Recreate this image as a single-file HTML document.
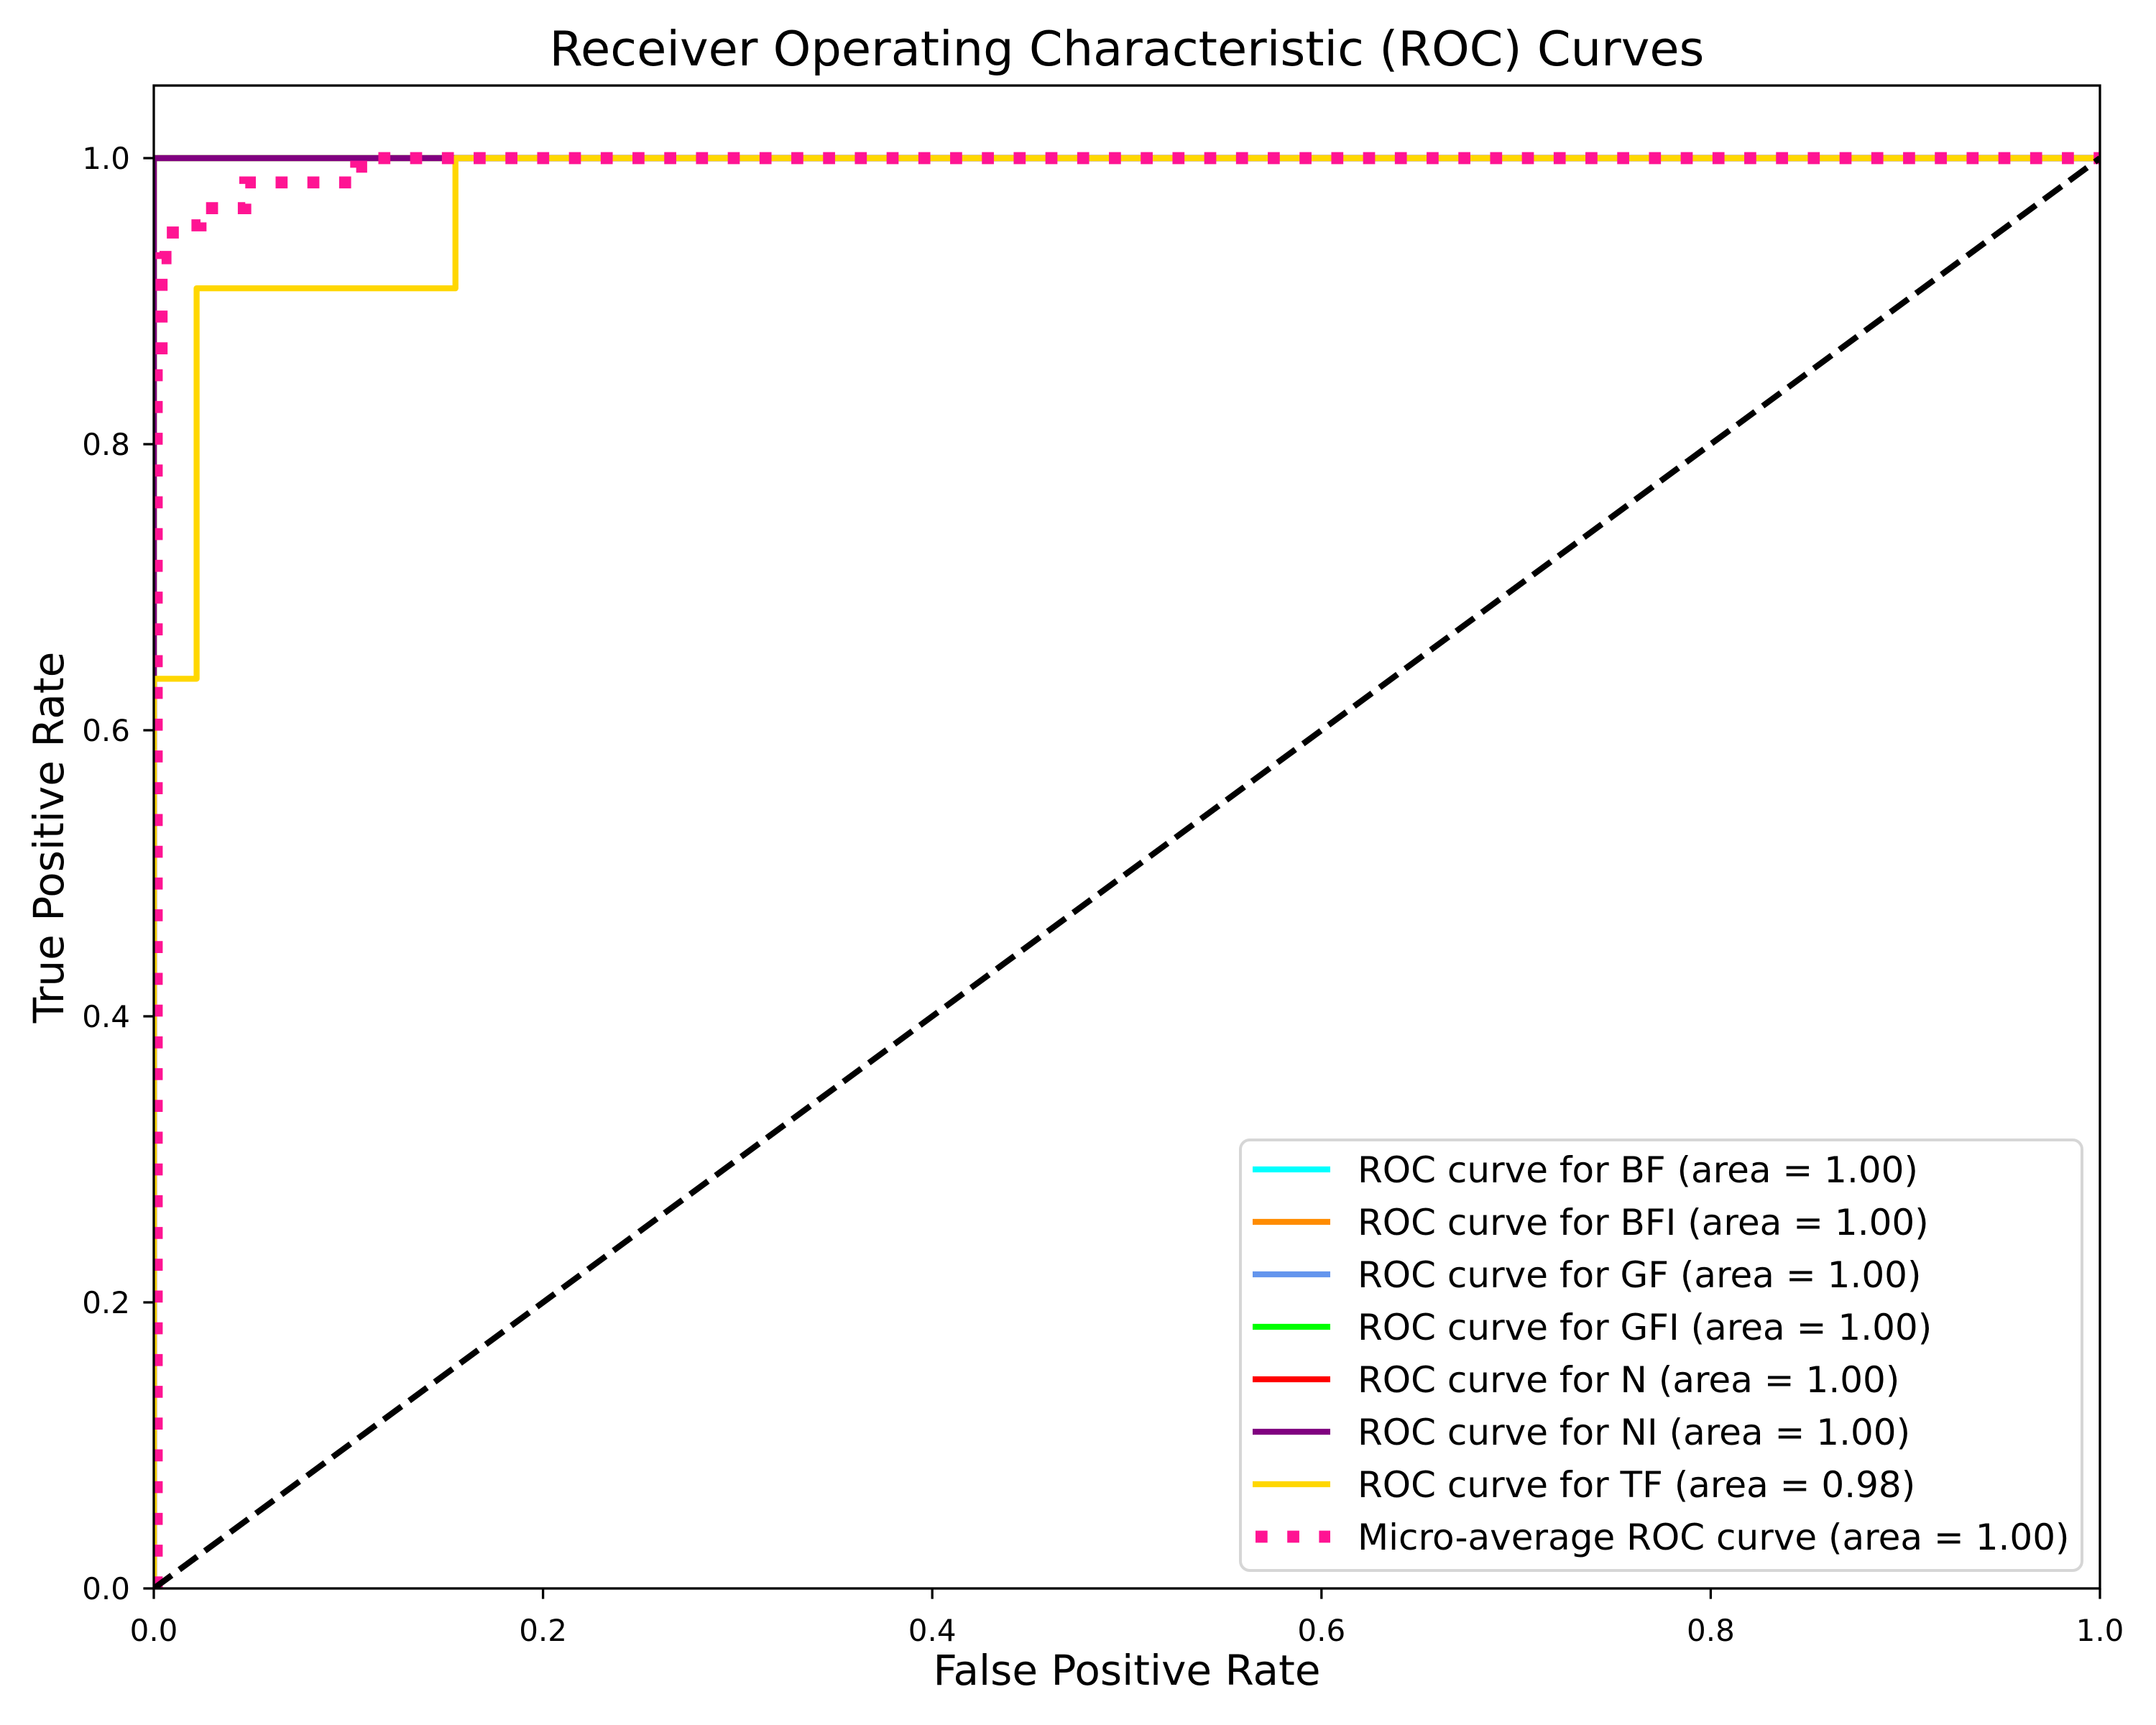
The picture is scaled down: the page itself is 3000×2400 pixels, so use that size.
<!DOCTYPE html>
<html><head><meta charset="utf-8">
<style>
html,body{margin:0;padding:0;background:#fff;}
svg{display:block;font-family:"DejaVu Sans","Liberation Sans",sans-serif;}
</style></head>
<body>
<svg id="chart" width="3000" height="2400" viewBox="0 0 3000 2400" xmlns="http://www.w3.org/2000/svg">
<rect x="0" y="0" width="3000" height="2400" fill="#fff"/>
<defs><clipPath id="plotclip"><rect x="214" y="119" width="2708" height="2091"/></clipPath></defs>
<text x="1568" y="91" font-size="67" text-anchor="middle">Receiver Operating Characteristic (ROC) Curves</text>
<text x="1568" y="2344" font-size="58" text-anchor="middle">False Positive Rate</text>
<text transform="translate(88,1165) rotate(-90)" font-size="58" text-anchor="middle">True Positive Rate</text>
<g id="ticks"></g>
<g id="series" clip-path="url(#plotclip)"></g>
<rect x="214" y="119" width="2708" height="2091" fill="none" stroke="#000" stroke-width="3.3"/>
<g id="legend"></g>
</svg>
<script>
const xTicks = [0, 0.2, 0.4, 0.6, 0.8, 1.0];
const yTicks = [0, 0.2, 0.4, 0.6, 0.8, 1.0];
const xTickLabels = ["0.0","0.2","0.4","0.6","0.8","1.0"];
const yTickLabels = ["0.0","0.2","0.4","0.6","0.8","1.0"];
const seriesNames = ["BF","BFI","GF","GFI","N","NI","TF"];
const seriesAreas = ["1.00","1.00","1.00","1.00","1.00","1.00","0.98"];
const seriesColors = ["#00ffff","#ff8c00","#6495ed","#00ff00","#ff0000","#800080","#ffd700"];
const fprBF = [0, 0, 1];   const tprBF = [0, 1, 1];
const fprBFI = [0, 0, 1];  const tprBFI = [0, 1, 1];
const fprGF = [0, 0, 1];   const tprGF = [0, 1, 1];
const fprGFI = [0, 0, 1];  const tprGFI = [0, 1, 1];
const fprN = [0, 0, 1];    const tprN = [0, 1, 1];
const fprNI = [0, 0, 1];   const tprNI = [0, 1, 1];
const fprTF = [0, 0, 0.022, 0.022, 0.155, 0.155, 1];
const tprTF = [0, 0.636, 0.636, 0.909, 0.909, 1, 1];
const fprMicro = [0.0015, 0.0015, 0.004, 0.004, 0.006, 0.006, 0.017, 0.017, 0.024, 0.024, 0.047, 0.047, 0.104, 0.104, 0.113, 0.113, 1];
const tprMicro = [0, 0.86, 0.86, 0.93, 0.93, 0.948, 0.948, 0.953, 0.953, 0.965, 0.965, 0.983, 0.983, 0.994, 0.994, 1, 1];
const microArea = "1.00";
const diagX = [0, 1];
const diagY = [0, 1];

const NS = "http://www.w3.org/2000/svg";
const X0 = 214, XW = 2708, Y0 = 2210, YH = 1990;
function sx(v){ return X0 + v * XW; }
function sy(v){ return Y0 - v * YH; }
function mk(tag, attrs, parent){
  const el = document.createElementNS(NS, tag);
  for (const k in attrs) el.setAttribute(k, attrs[k]);
  parent.appendChild(el);
  return el;
}
function pathD(xs, ys){
  return xs.map((x,i)=>(i?"L":"M")+sx(x).toFixed(2)+","+sy(ys[i]).toFixed(2)).join(" ");
}
const ticks = document.getElementById("ticks");
xTicks.forEach((t,i)=>{
  const l = mk("line",{x1:sx(t),x2:sx(t),y1:Y0,y2:Y0+14.6,stroke:"#000","stroke-width":3.3},ticks);
  
  
  const tx = mk("text",{x:sx(t),y:2283,"font-size":42,"text-anchor":"middle"},ticks);
  tx.textContent = xTickLabels[i];
  
  
});
yTicks.forEach((t,i)=>{
  const l = mk("line",{x1:X0-14.6,x2:X0,y1:sy(t),y2:sy(t),stroke:"#000","stroke-width":3.3},ticks);
  
  
  const tx = mk("text",{x:181,y:sy(t)+15,"font-size":42,"text-anchor":"end"},ticks);
  tx.textContent = yTickLabels[i];
  
  
});
const series = document.getElementById("series");
const allX = [fprBF,fprBFI,fprGF,fprGFI,fprN,fprNI,fprTF];
const allY = [tprBF,tprBFI,tprGF,tprGFI,tprN,tprNI,tprTF];
allX.forEach((xs,i)=>{
  const p = mk("path",{d:pathD(xs,allY[i]),fill:"none",stroke:seriesColors[i],"stroke-width":8.3,"stroke-linejoin":"round","stroke-linecap":"square"},series);
  
  
});
const micro = mk("path",{d:pathD(fprMicro,tprMicro),fill:"none",stroke:"#ff1493","stroke-width":16.7,"stroke-dasharray":"16.7 27.5","stroke-linecap":"butt"},series);


const diag = mk("path",{d:pathD(diagX,diagY),fill:"none",stroke:"#000","stroke-width":8.3,"stroke-dasharray":"30.8 13.3"},series);



const lg = document.getElementById("legend");
const box = mk("rect",{x:1726,y:1586,width:1171,height:599,rx:13,fill:"#fff","fill-opacity":0.8,stroke:"#d6d6d6","stroke-width":4},lg);


const rowY0 = 1627, rowDY = 73.0;
const labels = seriesNames.map((n,i)=>"ROC curve for "+n+" (area = "+seriesAreas[i]+")");
labels.push("Micro-average ROC curve (area = "+microArea+")");
labels.forEach((txt,i)=>{
  const y = rowY0 + i*rowDY;
  let h;
  if (i < seriesNames.length){
    h = mk("line",{x1:1743,x2:1851,y1:y,y2:y,stroke:seriesColors[i],"stroke-width":8.3},lg);
  } else {
    h = mk("line",{x1:1747,x2:1851,y1:y,y2:y,stroke:"#ff1493","stroke-width":16.7,"stroke-dasharray":"16.7 27.5"},lg);
  }
  
  
  const t = mk("text",{x:1889,y:y+18,"font-size":50},lg);
  t.textContent = txt;
  
  
});
</script>
</body></html>
